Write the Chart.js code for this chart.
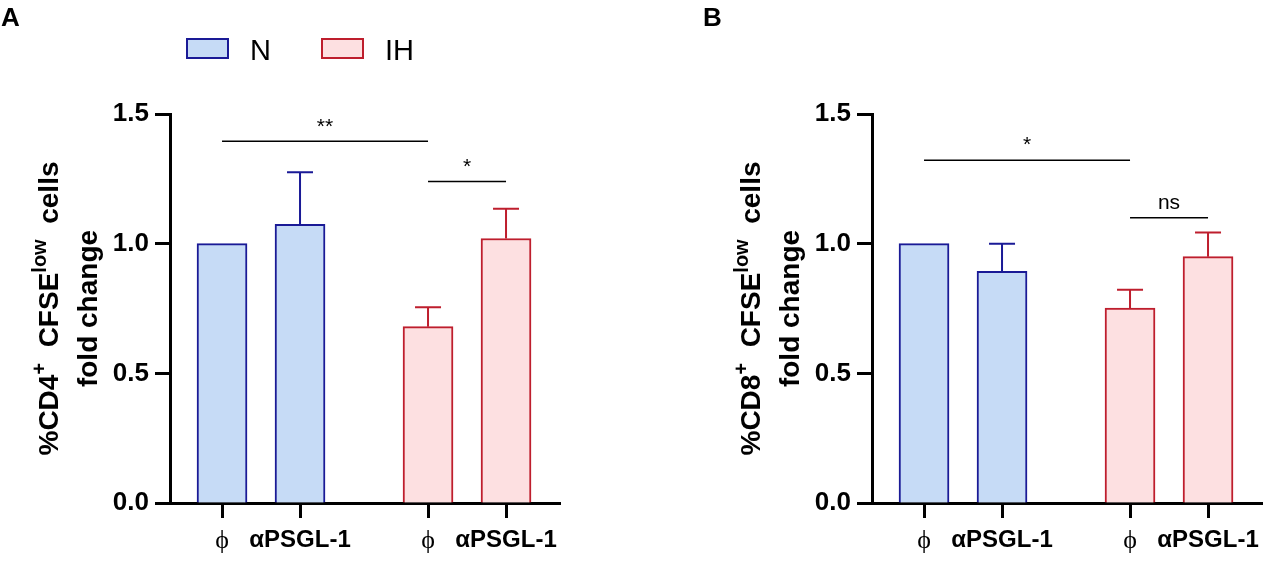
<!DOCTYPE html>
<html>
<head>
<meta charset="utf-8">
<script src="https://cdn.jsdelivr.net/npm/chart.js@4.4.1/dist/chart.umd.min.js"></script>
<style>
  body { margin: 0; background: #fff; }
  #wrap { position: relative; width: 1269px; height: 563px; }
  canvas { position: absolute; top: 0; }
</style>
</head>
<body>
<div id="wrap">
  <canvas id="panel-a" width="702" height="563" style="left:0"></canvas>
  <canvas id="panel-b" width="567" height="563" style="left:702px"></canvas>
</div>
<script>
const TREATMENTS = ['ϕ', 'αPSGL-1'];
const GROUPS = ['N', 'IH'];
const Y_TICKS = [0, 0.5, 1.0, 1.5];

// panel A : CD4
const CD4_N = [1.0, 1.075];
const CD4_N_ERR = [0, 0.2];
const CD4_IH = [0.68, 1.02];
const CD4_IH_ERR = [0.075, 0.115];
const CD4_SIGNIF = [[0, 2, 1.395, '**'], [2, 3, 1.24, '*']];

// panel B : CD8
const CD8_N = [1.0, 0.893];
const CD8_N_ERR = [0, 0.107];
const CD8_IH = [0.752, 0.95];
const CD8_IH_ERR = [0.07, 0.093];
const CD8_SIGNIF = [[0, 2, 1.322, '*'], [2, 3, 1.10, 'ns']];

const PALETTE = {
  N_FILL: '#c6dbf6',
  N_BORDER: '#1a1a96',
  IH_FILL: '#fde0e1',
  IH_BORDER: '#be1e2d',
  BLACK: '#000',
};
const SANS = "'Liberation Sans', Arial, sans-serif";
const SERIF = "'Liberation Serif', 'Times New Roman', serif";

// bar slots on the x axis : two treatments per group, wider gap between groups
const GROUP_STEP = 2.641;
const X_POS = [0, 1, GROUP_STEP, GROUP_STEP + 1];
const X_LABELS = [...TREATMENTS, ...TREATMENTS];

const errorBars = {
  id: 'errorBars',
  afterDatasetsDraw(chart) {
    const { ctx } = chart;
    const yScale = chart.scales.y;
    chart.data.datasets.forEach((ds, i) => {
      chart.getDatasetMeta(i).data.forEach((bar, j) => {
        const err = ds.errors[j];
        if (!err) return;
        const top = yScale.getPixelForValue(ds.data[j].y + err);
        ctx.save();
        ctx.strokeStyle = ds.borderColor;
        ctx.lineWidth = 2;
        ctx.beginPath();
        ctx.moveTo(bar.x, bar.y);
        ctx.lineTo(bar.x, top);
        ctx.moveTo(bar.x - 13, top);
        ctx.lineTo(bar.x + 13, top);
        ctx.stroke();
        ctx.restore();
      });
    });
  },
};

const brackets = {
  id: 'brackets',
  afterDatasetsDraw(chart, args, opts) {
    const { ctx } = chart;
    const { x, y } = chart.scales;
    opts.items.forEach(([from, to, level, label]) => {
      const x1 = x.getPixelForValue(X_POS[from]);
      const x2 = x.getPixelForValue(X_POS[to]);
      const py = y.getPixelForValue(level);
      ctx.save();
      ctx.strokeStyle = PALETTE.BLACK;
      ctx.lineWidth = 1.5;
      ctx.beginPath();
      ctx.moveTo(x1, py);
      ctx.lineTo(x2, py);
      ctx.stroke();
      ctx.fillStyle = PALETTE.BLACK;
      ctx.font = `21px ${SANS}`;
      ctx.textAlign = 'center';
      ctx.textBaseline = 'bottom';
      ctx.fillText(label, (x1 + x2) / 2, py - 4);
      ctx.restore();
    });
  },
};

const yTitle = {
  id: 'yTitle',
  afterDraw(chart, args, opts) {
    const { ctx, chartArea } = chart;
    const midY = (chartArea.top + chartArea.bottom) / 2;
    ctx.save();
    ctx.translate(0, midY);
    ctx.rotate(-Math.PI / 2);
    ctx.fillStyle = PALETTE.BLACK;
    ctx.textBaseline = 'alphabetic';
    // first line, with superscripts
    const main = `bold 28px ${SANS}`;
    const sup = `bold 20px ${SANS}`;
    const width = opts.segments.reduce((w, [t, isSup]) => {
      ctx.font = isSup ? sup : main;
      return w + ctx.measureText(t).width;
    }, 0);
    let u = -width / 2;
    opts.segments.forEach(([t, isSup]) => {
      ctx.font = isSup ? sup : main;
      ctx.fillText(t, u, isSup ? opts.line1 - 12 : opts.line1);
      u += ctx.measureText(t).width;
    });
    ctx.font = main;
    ctx.textAlign = 'center';
    ctx.fillText(opts.line2Text, 0, opts.line2);
    ctx.restore();
  },
};

const panelDecor = {
  id: 'panelDecor',
  afterDraw(chart, args, opts) {
    const { ctx } = chart;
    ctx.save();
    ctx.fillStyle = PALETTE.BLACK;
    ctx.font = `bold 26px ${SANS}`;
    ctx.textBaseline = 'alphabetic';
    ctx.fillText(opts.letter, 1, 26);
    if (opts.legend) {
      ctx.font = `29px ${SANS}`;
      chart.data.datasets.forEach((ds, i) => {
        const bx = 187 + i * 135;
        ctx.fillStyle = ds.backgroundColor;
        ctx.fillRect(bx, 39, 41, 19);
        ctx.strokeStyle = ds.borderColor;
        ctx.lineWidth = 2;
        ctx.strokeRect(bx, 39, 41, 19);
        ctx.fillStyle = PALETTE.BLACK;
        ctx.fillText(ds.label, bx + 63, 60);
      });
    }
    ctx.restore();
  },
};

const drawPanel = (canvas, {
  n, nErr, ih, ihErr, signif, letter, legend, titleSegments,
}) => {
  /* eslint-disable no-new */
  new Chart(canvas, {
    type: 'bar',
    plugins: [errorBars, brackets, yTitle, panelDecor],
    data: {
      datasets: [
        {
          label: GROUPS[0],
          data: n.map((y, i) => ({ x: X_POS[i], y })),
          errors: nErr,
          backgroundColor: PALETTE.N_FILL,
          borderColor: PALETTE.N_BORDER,
        },
        {
          label: GROUPS[1],
          data: ih.map((y, i) => ({ x: X_POS[i + 2], y })),
          errors: ihErr,
          backgroundColor: PALETTE.IH_FILL,
          borderColor: PALETTE.IH_BORDER,
        },
      ],
    },
    options: {
      responsive: false,
      animation: false,
      devicePixelRatio: 1,
      events: [],
      layout: { padding: { top: 114, right: canvas.width - 560, left: 0, bottom: 0 } },
      datasets: {
        bar: { barThickness: 50, grouped: false, borderWidth: 2 },
      },
      plugins: {
        legend: { display: false },
        tooltip: { enabled: false },
        brackets: { items: signif },
        yTitle: { segments: titleSegments, line1: 58, line2: 97, line2Text: 'fold change' },
        panelDecor: { letter, legend },
      },
      scales: {
        x: {
          type: 'linear',
          min: -0.667,
          max: GROUP_STEP + 1 + 0.692,
          offset: false,
          afterFit: (s) => { s.height = 60; },
          afterBuildTicks: (s) => { s.ticks = X_POS.map((value) => ({ value })); },
          border: { color: PALETTE.BLACK, width: 3 },
          grid: {
            offset: false, drawOnChartArea: false, tickLength: 15, tickWidth: 3, tickColor: PALETTE.BLACK,
          },
          ticks: {
            autoSkip: false,
            maxRotation: 0,
            padding: 8,
            color: PALETTE.BLACK,
            callback: (v, i) => X_LABELS[i],
            font: (ctx) => (ctx.index % 2 === 0
              ? { family: SERIF, size: 26 }
              : { family: SANS, size: 24, weight: 'bold' }),
          },
        },
        y: {
          min: 0,
          max: 1.5,
          afterFit: (s) => { s.width = 170; },
          afterBuildTicks: (s) => { s.ticks = Y_TICKS.map((value) => ({ value })); },
          border: { color: PALETTE.BLACK, width: 3 },
          grid: {
            offset: false, drawOnChartArea: false, tickLength: 15, tickWidth: 3, tickColor: PALETTE.BLACK,
          },
          ticks: {
            padding: 6,
            color: PALETTE.BLACK,
            callback: (v) => v.toFixed(1),
            font: { family: SANS, size: 26, weight: 'bold' },
          },
        },
      },
    },
  });
  /* eslint-enable no-new */
};

drawPanel(document.getElementById('panel-a'), {
  n: CD4_N,
  nErr: CD4_N_ERR,
  ih: CD4_IH,
  ihErr: CD4_IH_ERR,
  signif: CD4_SIGNIF,
  letter: 'A',
  legend: true,
  titleSegments: [['%CD4', false], ['+', true], ['  CFSE', false], ['low', true], ['  cells', false]],
});

drawPanel(document.getElementById('panel-b'), {
  n: CD8_N,
  nErr: CD8_N_ERR,
  ih: CD8_IH,
  ihErr: CD8_IH_ERR,
  signif: CD8_SIGNIF,
  letter: 'B',
  legend: false,
  titleSegments: [['%CD8', false], ['+', true], ['  CFSE', false], ['low', true], ['  cells', false]],
});
</script>
</body>
</html>
